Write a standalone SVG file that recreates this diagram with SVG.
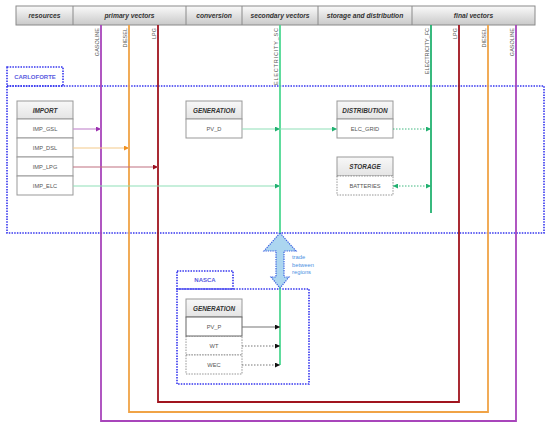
<svg xmlns="http://www.w3.org/2000/svg" width="550" height="428" viewBox="0 0 550 428">
<style>
text{font-family:"Liberation Sans",Arial,sans-serif}
.hd{font-size:6.7px;font-weight:bold;font-style:italic;fill:#333;text-anchor:middle}
.th{font-size:6.4px;font-weight:bold;font-style:italic;fill:#333;text-anchor:middle}
.tr{font-size:5.7px;fill:#555;text-anchor:middle}
.vl{font-size:5.5px;fill:#555;text-anchor:end}
.reg{font-size:6px;font-weight:bold;fill:#5a5ae0;text-anchor:middle}
.box{fill:none;stroke:#3535ee;stroke-width:1.6;stroke-dasharray:1.5 1.2}
.cellh{fill:url(#gh);stroke:#999;stroke-width:1}
.cell{fill:#fff;stroke:#999;stroke-width:1}
.celld{fill:#fff;stroke:#888;stroke-width:0.9;stroke-dasharray:1.5 1.2}
.ln{fill:none;stroke-width:1.8}
.tt{font-size:5.8px;fill:#4a90e2}
</style>
<defs>
<linearGradient id="gb" x1="0" y1="0" x2="0" y2="1"><stop offset="0" stop-color="#fafafa"/><stop offset="1" stop-color="#c9c9c9"/></linearGradient>
<linearGradient id="gh" x1="0" y1="0" x2="0" y2="1"><stop offset="0" stop-color="#f8f8f8"/><stop offset="1" stop-color="#e4e4e4"/></linearGradient>
<marker id="mp" markerWidth="5" markerHeight="5" refX="5" refY="2.5" orient="auto" markerUnits="userSpaceOnUse"><path d="M0,0 L5,2.5 L0,5 z" fill="#9b2fb0"/></marker>
<marker id="mo" markerWidth="5" markerHeight="5" refX="5" refY="2.5" orient="auto" markerUnits="userSpaceOnUse"><path d="M0,0 L5,2.5 L0,5 z" fill="#f09020"/></marker>
<marker id="mr" markerWidth="5" markerHeight="5" refX="5" refY="2.5" orient="auto" markerUnits="userSpaceOnUse"><path d="M0,0 L5,2.5 L0,5 z" fill="#9a1020"/></marker>
<marker id="mg" markerWidth="5" markerHeight="5" refX="5" refY="2.5" orient="auto-start-reverse" markerUnits="userSpaceOnUse"><path d="M0,0 L5,2.5 L0,5 z" fill="#20b070"/></marker>
<marker id="mk" markerWidth="5" markerHeight="5" refX="5" refY="2.5" orient="auto" markerUnits="userSpaceOnUse"><path d="M0,0 L5,2.5 L0,5 z" fill="#111"/></marker>
</defs>

<g id="header">
<rect x="16" y="6" width="519" height="19" fill="url(#gb)" stroke="#8a8a8a" stroke-width="1"/>
<path d="M73,6V25M186,6V25M242,6V25M318,6V25M412,6V25" stroke="#8a8a8a" stroke-width="1"/>
<text class="hd" x="44.5" y="18">resources</text>
<text class="hd" x="129.5" y="18">primary vectors</text>
<text class="hd" x="214" y="18">conversion</text>
<text class="hd" x="280" y="18">secondary vectors</text>
<text class="hd" x="365" y="18">storage and distribution</text>
<text class="hd" x="473.5" y="18">final vectors</text>
</g>

<g id="carloforte">
<rect class="box" x="7" y="67" width="56" height="19"/>
<text class="reg" x="35" y="78.5">CARLOFORTE</text>
<rect class="box" x="7" y="86" width="537" height="147"/>
</g>

<g id="nasca">
<rect class="box" x="177" y="271" width="56" height="18"/>
<text class="reg" x="205" y="282">NASCA</text>
<rect class="box" x="177" y="289" width="132" height="95"/>
</g>

<g id="import">
<rect class="cellh" x="17" y="101" width="56" height="18"/>
<text class="th" x="45" y="112.5">IMPORT</text>
<rect class="cell" x="17" y="119" width="56" height="19"/>
<text class="tr" x="45" y="130.5">IMP_GSL</text>
<rect class="cell" x="17" y="138" width="56" height="19"/>
<text class="tr" x="45" y="149.5">IMP_DSL</text>
<rect class="cell" x="17" y="157" width="56" height="19"/>
<text class="tr" x="45" y="168.5">IMP_LPG</text>
<rect class="cell" x="17" y="176" width="56" height="19"/>
<text class="tr" x="45" y="187.5">IMP_ELC</text>
</g>

<g id="generation-carloforte">
<rect class="cellh" x="186" y="101" width="56" height="18"/>
<text class="th" x="214" y="112.5">GENERATION</text>
<rect class="cell" x="186" y="119" width="56" height="19"/>
<text class="tr" x="214" y="130.5">PV_D</text>
</g>

<g id="distribution">
<rect class="cellh" x="337" y="101" width="56" height="18"/>
<text class="th" x="365" y="112.5">DISTRIBUTION</text>
<rect class="cell" x="337" y="119" width="56" height="19"/>
<text class="tr" x="365" y="130.5">ELC_GRID</text>
</g>

<g id="storage">
<rect class="cellh" x="337" y="157" width="56" height="19"/>
<text class="th" x="365" y="168.5">STORAGE</text>
<rect class="celld" x="337" y="176" width="56" height="19"/>
<text class="tr" x="365" y="187.5">BATTERIES</text>
</g>

<g id="generation-nasca">
<rect class="cellh" x="186" y="299" width="56" height="18"/>
<text class="th" x="214" y="310.5">GENERATION</text>
<rect class="celld" x="186" y="336" width="56" height="19"/>
<text class="tr" x="214" y="347.5">WT</text>
<rect class="celld" x="186" y="355" width="56" height="19"/>
<text class="tr" x="214" y="366.5">WEC</text>
<rect x="186" y="317" width="56" height="19" fill="#fff" stroke="#666" stroke-width="1"/>
<text class="tr" x="214" y="328.5">PV_P</text>
</g>

<g id="connectors">
<path class="ln" d="M101,25V421H516V25" stroke="#a845bb"/>
<path class="ln" d="M129,25V412H488V25" stroke="#f0a346"/>
<path class="ln" d="M158,25V402H459V25" stroke="#a0141e"/>
<path class="ln" d="M280,25V365" stroke="#4fd892"/>
<path class="ln" d="M431,25V213" stroke="#22b270"/>

<path d="M73,129H101" stroke="#c690d0" stroke-width="1.2" marker-end="url(#mp)"/>
<path d="M73,148H129" stroke="#f3c98a" stroke-width="1.2" marker-end="url(#mo)"/>
<path d="M73,167H158" stroke="#c07080" stroke-width="1.2" marker-end="url(#mr)"/>
<path d="M73,186H280" stroke="#8fe0b8" stroke-width="1.2" marker-end="url(#mg)"/>
<path d="M242,129H280" stroke="#8fe0b8" stroke-width="1.2" marker-end="url(#mg)"/>
<path d="M280,129H337" stroke="#8fe0b8" stroke-width="1.2" marker-end="url(#mg)"/>
<path d="M393,129H431" stroke="#40b880" stroke-width="1" stroke-dasharray="1.5 1.5" marker-end="url(#mg)"/>
<path d="M393,186H431" stroke="#40b880" stroke-width="1" stroke-dasharray="1.5 1.5" marker-start="url(#mg)" marker-end="url(#mg)"/>
<path d="M242,327H280" stroke="#777" stroke-width="1.2" marker-end="url(#mk)"/>
<path d="M242,346H280" stroke="#777" stroke-width="1" stroke-dasharray="1.5 1.5" marker-end="url(#mk)"/>
<path d="M242,365H280" stroke="#777" stroke-width="1" stroke-dasharray="1.5 1.5" marker-end="url(#mk)"/>

<g class="vl">
<text transform="translate(98.5,28) rotate(-90)">GASOLINE</text>
<text transform="translate(127,28) rotate(-90)">DIESEL</text>
<text transform="translate(156,28) rotate(-90)">LPG</text>
<text transform="translate(277.5,28) rotate(-90)" textLength="57" lengthAdjust="spacing">ELECTRICITY_SC</text>
<text transform="translate(429,28) rotate(-90)">ELECTRICITY_FC</text>
<text transform="translate(457,28) rotate(-90)">LPG</text>
<text transform="translate(486,28) rotate(-90)">DIESEL</text>
<text transform="translate(514,28) rotate(-90)">GASOLINE</text>
</g>
</g>

<g id="trade">
<path d="M280,233 L296,251 L284,251 L284,277 L289,277 L280,288 L271,277 L276,277 L276,251 L264,251 Z" fill="#acd6f0" stroke="#3a60e0" stroke-width="1.2" stroke-dasharray="1.3 1"/>
<text class="tt" x="292" y="259">trade</text>
<text class="tt" x="292" y="266.5">between</text>
<text class="tt" x="292" y="274">regions</text>
</g>
</svg>
